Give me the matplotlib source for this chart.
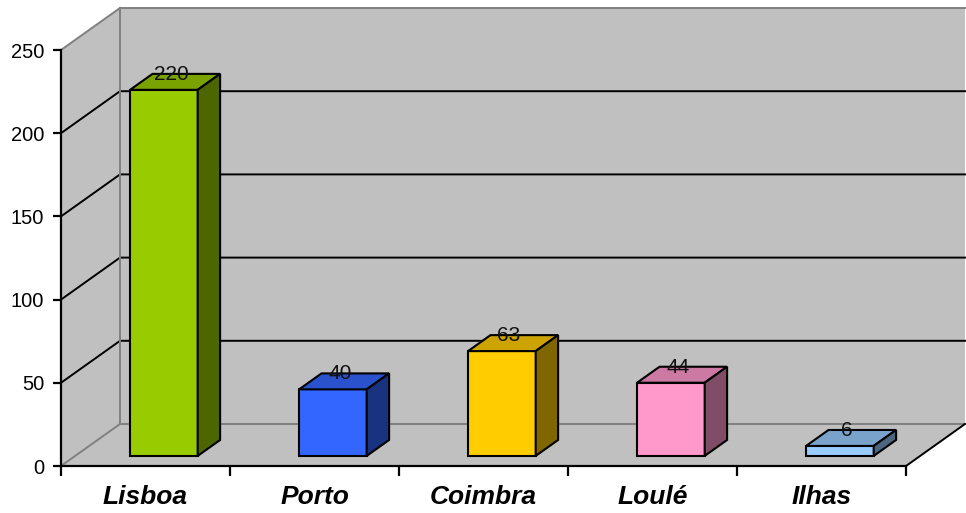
import matplotlib.pyplot as plt
from matplotlib.patches import Polygon

# Values per region
cities = ['Lisboa', 'Porto', 'Coimbra', 'Loulé', 'Ilhas']
totals = [220, 40, 63, 44, 6]

front_colors = ['#99CC00', '#3366FF', '#FFCC00', '#FF99CC', '#99CCFF']
top_colors = ['#7AA300', '#2952CC', '#CCA300', '#CC7AA3', '#7AA3CC']
side_colors = ['#4D6600', '#1A3380', '#806600', '#804D66', '#4D6680']

WALL = '#C0C0C0'
EDGE = '#808080'

fig = plt.figure(figsize=(9.66, 5.13), dpi=100)
ax = fig.add_axes([61 / 966, 47 / 513, 845 / 966, 416 / 513])
ax.set_xlim(0, 5)
ax.set_ylim(0, 250)
ax.set_facecolor('none')

# oblique depth: a full unit of depth moves 59 px right and 42 px up
DX = 59 / (845 / 5)
DY = 42 / (416 / 250)


def proj(x, y, d):
    return (x + d * DX, y + d * DY)


def poly(pts, fc, ec, lw, z):
    ax.add_patch(Polygon(pts, closed=True, facecolor=fc, edgecolor=ec,
                         linewidth=lw, zorder=z, clip_on=False,
                         joinstyle='miter'))


# walls and floor
poly([proj(0, 0, 0), proj(0, 250, 0), proj(0, 250, 1), proj(0, 0, 1)], WALL, 'none', 0, 0)
poly([proj(0, 0, 1), proj(0, 250, 1), proj(5, 250, 1), proj(5, 0, 1)], WALL, 'none', 0, 0)
poly([proj(0, 0, 0), proj(5, 0, 0), proj(5, 0, 1), proj(0, 0, 1)], WALL, 'none', 0, 0)

# grid lines on back and left walls
for v in [50, 100, 150, 200]:
    xs, ys = zip(proj(0, v, 0), proj(0, v, 1), proj(5, v, 1))
    ax.plot(xs, ys, color='black', lw=1.4, zorder=1, clip_on=False)

# grey edges of the box
for a, b in [((0, 250, 0), (0, 250, 1)), ((0, 250, 1), (5, 250, 1)),
             ((0, 0, 0), (0, 0, 1)), ((0, 0, 1), (5, 0, 1)),
             ((0, 0, 1), (0, 250, 1))]:
    xs, ys = zip(proj(*a), proj(*b))
    ax.plot(xs, ys, color=EDGE, lw=1.4, zorder=1, clip_on=False)
xs, ys = zip(proj(5, 0, 0), proj(5, 0, 1))
ax.plot(xs, ys, color='black', lw=1.4, zorder=1, clip_on=False)

# bars
d0, d1 = 0.24, 0.62
half = 0.2
for i, v in enumerate(totals):
    x0 = i + 0.525 - half
    x1 = i + 0.525 + half
    poly([proj(x0, 0, d0), proj(x1, 0, d0), proj(x1, v, d0), proj(x0, v, d0)],
         front_colors[i], 'black', 1.5, 3)
    poly([proj(x0, v, d0), proj(x1, v, d0), proj(x1, v, d1), proj(x0, v, d1)],
         top_colors[i], 'black', 1.5, 3)
    poly([proj(x1, 0, d0), proj(x1, 0, d1), proj(x1, v, d1), proj(x1, v, d0)],
         side_colors[i], 'black', 1.5, 3)
    lx, ly = proj((x0 + x1) / 2, v, (d0 + d1) / 2)
    ax.annotate(str(v), (lx, ly), xytext=(-3, 1.5), textcoords='offset points',
                ha='center', va='baseline', fontsize=15, color='#111111',
                family='Liberation Sans', zorder=5, annotation_clip=False)

# axes
for s in ['top', 'right']:
    ax.spines[s].set_visible(False)
for s in ['left', 'bottom']:
    ax.spines[s].set_color('black')
    ax.spines[s].set_linewidth(1.6)
    ax.spines[s].set_zorder(4)

ax.set_yticks([0, 50, 100, 150, 200, 250])
ax.tick_params(axis='y', length=6, width=1.6, pad=6, labelsize=14.5)
ax.set_xticks(range(6))
ax.set_xticklabels([])
ax.tick_params(axis='x', which='major', length=7, width=1.6)
ax.set_xticks([i + 0.5 for i in range(5)], minor=True)
ax.set_xticklabels(cities, minor=True, fontsize=19, fontweight='bold',
                   fontstyle='italic', family='Liberation Sans')
ax.tick_params(axis='x', which='minor', length=0, pad=14)
for t in ax.get_yticklabels():
    t.set_family('Liberation Sans')

plt.savefig('out.png', dpi=100)
